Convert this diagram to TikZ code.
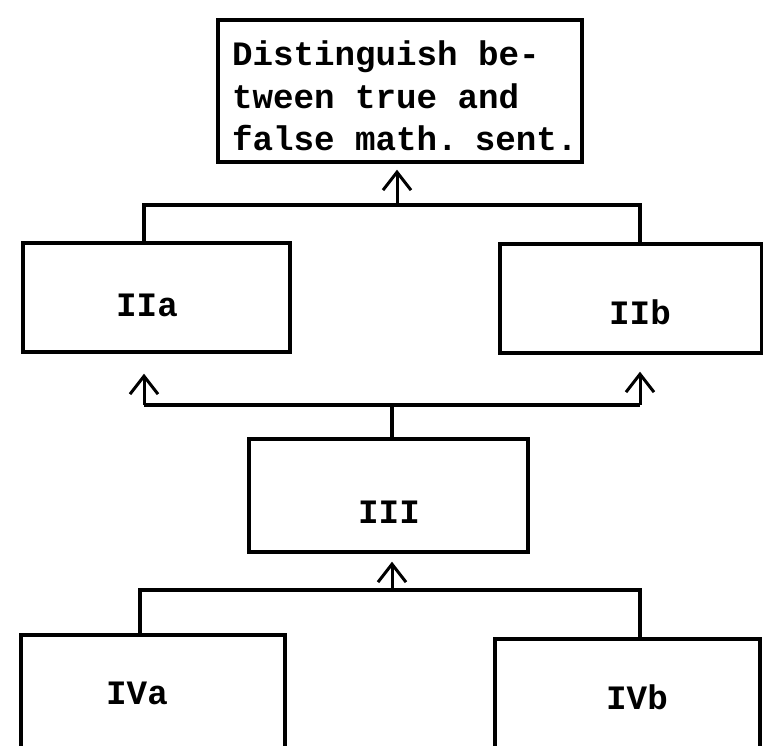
\documentclass[tikz,border=0pt]{standalone}
\usepackage{fontspec}
\setmonofont{Liberation Mono}
\usetikzlibrary{arrows.meta}
\newcommand\twfont{\ttfamily\bfseries\fontsize{34.2}{42.5}\selectfont}
\newcommand\twspace{\spaceskip=20.5pt\relax}
\begin{document}
\begin{tikzpicture}[x=1pt,y=-1pt,
  box/.style={draw, line width=3.4pt, inner sep=0pt},
  lbl/.style={inner sep=0pt, font=\twfont},
  wire/.style={line width=3.4pt},
  arr/.style={line width=3pt, -{Straight Barb[length=18pt,width=28pt,line width=3pt]}}]
\useasboundingbox (0,0) rectangle (763,746);
\clip (0,0) rectangle (763,746);
% boxes
\node[box, lbl, minimum width=364pt, minimum height=142pt, text width=364pt, align=left] (goal) at (400,91)
  {\twspace\hspace*{14pt}\rule{0pt}{35pt}Distinguish be-\\\hspace*{14pt}tween true and\\\hspace*{14pt}false math. sent.};
\node[box, minimum width=267pt, minimum height=109pt] (IIa) at (156.5,297.5) {};
\node[box, minimum width=262pt, minimum height=109pt] (IIb) at (631,298.5) {};
\node[box, minimum width=279pt, minimum height=113pt] (III) at (388.5,495.5) {};
\node[box, minimum width=264pt, minimum height=125pt] (IVa) at (153,697.5) {};
\node[box, minimum width=265pt, minimum height=121pt] (IVb) at (627.5,699.5) {};
% labels
\node[lbl] (tIIa) at (147,305) {IIa};
\node[lbl] (tIIb) at (640,312) {IIb};
\node[lbl] (tIII) at (389,512) {III};
\node[lbl] (tIVa) at (137,693) {IVa};
\node[lbl] (tIVb) at (637,697) {IVb};
% bus coordinates
\coordinate (b1a) at (144,205);
\coordinate (b1b) at (640,205);
\coordinate (b1c) at (397,205);
\coordinate (b2a) at (144,405);
\coordinate (b2b) at (640,405);
\coordinate (b2c) at (392,405);
\coordinate (b3a) at (140,590);
\coordinate (b3b) at (640,590);
\coordinate (b3c) at (392,590);
% top level
\draw[wire] (b1a |- IIa.north) -- (b1a) -- (b1b) -- (b1b |- IIb.north);
\draw[arr, shorten >=6pt] (b1c) -- (b1c |- goal.south);
% middle level
\draw[wire] (b2a) -- (b2b);
\draw[wire] (b2c) -- (b2c |- III.north);
\draw[arr, shorten >=20pt] (b2a) -- (b2a |- IIa.south);
\draw[arr, shorten >=17pt] (b2b) -- (b2b |- IIb.south);
% bottom level
\draw[wire] (b3a |- IVa.north) -- (b3a) -- (b3b) -- (b3b |- IVb.north);
\draw[arr, shorten >=8pt] (b3c) -- (b3c |- III.south);
\end{tikzpicture}
\end{document}
